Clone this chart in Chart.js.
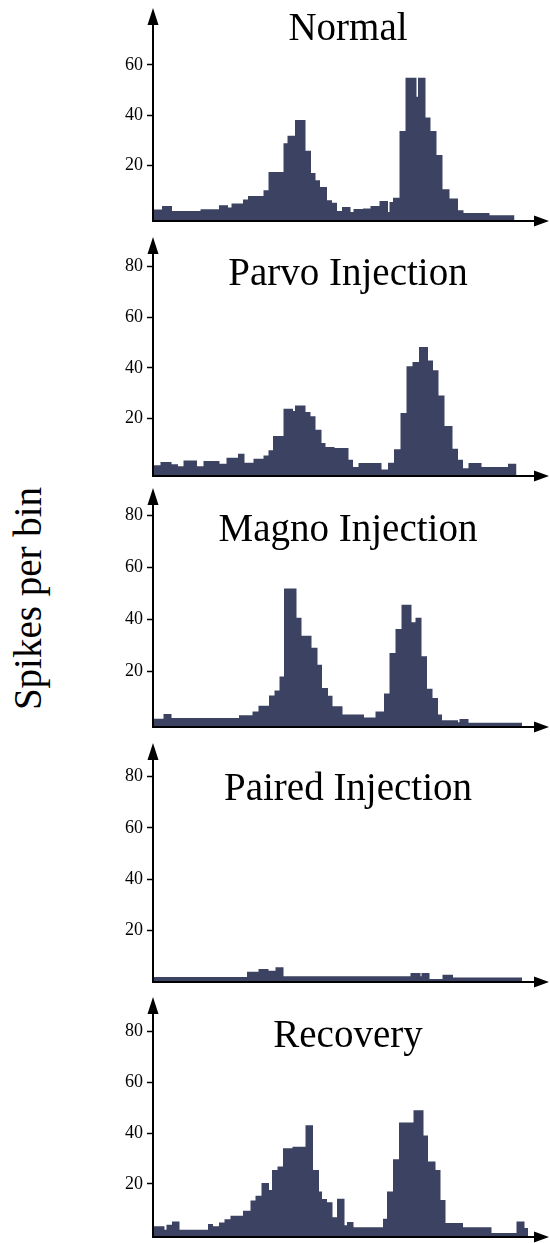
<!DOCTYPE html>
<html>
<head>
<meta charset="utf-8">
<title>Spikes per bin</title>
<script src="https://cdn.jsdelivr.net/npm/chart.js@4.4.1/dist/chart.umd.min.js"></script>
<style>
  html, body { margin: 0; padding: 0; background: #fff; }
  #page { position: relative; width: 550px; height: 1243px; overflow: hidden;
          font-family: "Liberation Serif", "DejaVu Serif", serif; color: #000; }
  #page canvas { position: absolute; left: 0; }
  .panel-title { position: absolute; left: 148px; width: 400px; text-align: center;
                 font-size: 39px; line-height: 39px; white-space: nowrap; }
  #ylabel { position: absolute; left: -123px; top: 579px; width: 300px; height: 39px;
            font-size: 39px; line-height: 39px; text-align: center; white-space: nowrap;
            transform: rotate(-90deg); }
</style>
</head>
<body>
<div id="page">
  <div id="ylabel">Spikes per bin</div>
</div>
<script>
/* =============================================================================
DATA: step edges (time, arbitrary bin units) and spike counts for each step
============================================================================= */

const normalEdges = [0, 1.8, 3.8, 9.5, 13.2, 15, 15.7, 18, 19, 22.1, 23.1, 26.1, 26.9, 28.4, 30.5,
  31.6, 32.5, 33.4, 34.8, 35.8, 36.8, 37.8, 39.5, 40.1, 42, 43.5, 45.3, 47, 47.3, 48, 49.3, 50.5,
  52.7, 53, 54.5, 55.5, 56.7, 57.9, 59.3, 61, 62.1, 67.3, 72.3];
const normalCounts = [2.3, 3.7, 1.7, 2.4, 4.0, 3.1, 4.7, 6.3, 7.7, 10.0, 17.3, 28.7, 31.7, 38.0, 25.7,
  16.9, 14.0, 11.3, 6.0, 5.0, 1.7, 3.3, 1.3, 2.5, 2.7, 3.7, 5.7, 1.3, 5.3, 7.0, 33.6, 54.9,
  47.3, 54.9, 39.0, 33.6, 24.0, 10.4, 6.7, 2.0, 0.9, 0];

const parvoEdges = [0, 1.5, 3.7, 5, 6.1, 8.8, 10.1, 13.3, 14.7, 17, 18.3, 20.1, 22.1, 23.1, 24,
  26.1, 28, 28.4, 30.5, 31.5, 32.5, 33.7, 34.5, 36.3, 39.1, 40, 41.1, 45.7, 47, 48.2, 49.5,
  50.7, 51.9, 53.2, 55, 56, 57.1, 58.3, 59.9, 61, 62, 63.1, 65.7, 71, 72.7];
const parvoCounts = [1.6, 2.9, 2.0, 1.2, 3.5, 1.2, 3.3, 2.2, 4.6, 6.2, 2.6, 4.2, 5.5, 7.5,
  13.1, 23.9, 23.0, 25.2, 22.6, 20.9, 15.6, 10.4, 8.8, 8.4, 3.8, 0.9, 2.5, 0, 2.6, 7.9,
  22.2, 40.6, 42.3, 48.2, 42.9, 39.0, 29.1, 17.1, 8.1, 3.8, 0.5, 2.5, 0.9, 2.2];

const magnoEdges = [0, 2.1, 3.7, 17.2, 19.9, 21.1, 23.2, 24.3, 25.3, 26.2, 28.7, 29.7, 31.7,
  32.9, 33.8, 35, 35.9, 37.9, 42.2, 44.5, 46.2, 47.3, 48.5, 49.7, 51.7, 52.5, 53.7, 54.8,
  55.9, 57, 57.8, 61, 61.3, 63.1, 73.8];
const magnoCounts = [1.6, 3.4, 1.9, 2.9, 4.4, 6.6, 10.6, 12.5, 17.9, 51.8, 40.5, 33.6, 29.0,
  22.4, 13.4, 10.5, 6.4, 3.2, 2.1, 4.4, 11.3, 26.9, 36.2, 45.6, 38.8, 40.5, 25.7, 13.2,
  9.6, 3.2, 1.0, 0.2, 1.5, 0];

const pairedEdges = [0, 18.8, 21.1, 23.1, 24.5, 26.1, 51.5, 53.5, 53.7, 55.3, 57.9, 60, 73.8];
const pairedCounts = [1.9, 4.0, 5.1, 4.4, 5.7, 2.2, 3.5, 2.2, 3.5, 1.2, 2.8, 1.8];

const recoveryEdges = [0, 2.3, 2.7, 3.8, 5.3, 11, 12, 13.2, 14.3, 15.5, 18, 19.5, 20.5, 21.7,
  23.2, 23.8, 24.9, 26, 27.9, 30.5, 32, 33.2, 33.8, 34.8, 35.9, 36.8, 38.3, 38.8, 40.1, 46,
  46.8, 48, 49.2, 52.1, 54.1, 55, 56.5, 57.5, 58.5, 62, 67.7, 72.7, 74.3, 75];
const recoveryCounts = [3.3, 2.0, 3.9, 5.2, 2.0, 4.2, 3.3, 4.8, 6.1, 7.5, 9.4, 13.5, 15.3,
  20.3, 17.6, 25.5, 26.8, 34.0, 34.6, 43.1, 25.5, 17.0, 14.0, 12.8, 6.9, 14.1, 3.7, 5.0,
  2.9, 6.3, 17.0, 29.7, 44.1, 49.0, 39.0, 28.8, 25.5, 13.7, 4.6, 2.9, 0.7, 5.2, 2.6];

const ticksNormal = [20, 40, 60];
const ticksOther = [20, 40, 60, 80];
const TIME_MAX = 79.2;

/* =============================================================================
LAYOUT (page pixels) AND STYLE
============================================================================= */

const BAR_COLOR = '#3c4362';
const AXIS_LEFT = 153;

const panels = [
  { title: 'Normal',           edges: normalEdges,   counts: normalCounts,   ticks: ticksNormal, yMin: -2.3, yMax: 82.7, top: 8,   axis: 221,  titleTop: 6.7 },
  { title: 'Parvo Injection',  edges: parvoEdges,    counts: parvoCounts,    ticks: ticksOther,  yMin: -2.6, yMax: 91.5, top: 237, axis: 476,  titleTop: 252.4 },
  { title: 'Magno Injection',  edges: magnoEdges,    counts: magnoCounts,    ticks: ticksOther,  yMin: -1.6, yMax: 90.6, top: 488, axis: 727,  titleTop: 508.4 },
  { title: 'Paired Injection', edges: pairedEdges,   counts: pairedCounts,   ticks: ticksOther,  yMin: 0,    yMax: 93.1, top: 743, axis: 982,  titleTop: 767.4 },
  { title: 'Recovery',         edges: recoveryEdges, counts: recoveryCounts, ticks: ticksOther,  yMin: -0.9, yMax: 93.5, top: 997, axis: 1237, titleTop: 1014 }
];

const PAD_TOP = 8;
const PAD_BOTTOM = 6;

// axis lines with arrow heads
const arrowAxes = {
  id: 'arrowAxes',
  afterDraw(chart) {
    const { ctx, chartArea: { left, right, top, bottom } } = chart;
    ctx.save();
    ctx.strokeStyle = '#000';
    ctx.fillStyle = '#000';
    ctx.lineWidth = 2;
    ctx.beginPath();
    ctx.moveTo(left, bottom + 1);
    ctx.lineTo(left, top + 10);
    ctx.moveTo(left - 1, bottom);
    ctx.lineTo(right - 10, bottom);
    ctx.stroke();
    ctx.beginPath();
    ctx.moveTo(left, top);
    ctx.lineTo(left - 5.5, top + 17);
    ctx.lineTo(left + 5.5, top + 17);
    ctx.closePath();
    ctx.moveTo(right, bottom);
    ctx.lineTo(right - 15, bottom - 5.5);
    ctx.lineTo(right - 15, bottom + 5.5);
    ctx.closePath();
    ctx.fill();
    ctx.restore();
  }
};

function stepPoints(edges, counts) {
  const points = counts.map((c, i) => ({ x: edges[i], y: c }));
  points.push({ x: edges[edges.length - 1], y: counts[counts.length - 1] });
  return points;
}

function renderPanel(panel) {
  const page = document.getElementById('page');

  const canvas = document.createElement('canvas');
  const height = panel.axis - panel.top + PAD_TOP + PAD_BOTTOM;
  canvas.width = 550;
  canvas.height = height;
  canvas.style.width = '550px';
  canvas.style.height = height + 'px';
  canvas.style.top = (panel.top - PAD_TOP) + 'px';
  page.appendChild(canvas);

  const title = document.createElement('div');
  title.className = 'panel-title';
  title.style.top = panel.titleTop + 'px';
  title.textContent = panel.title;
  page.appendChild(title);

  new Chart(canvas.getContext('2d'), {
    type: 'line',
    data: {
      datasets: [{
        label: panel.title,
        data: stepPoints(panel.edges, panel.counts),
        stepped: true,
        fill: 'start',
        backgroundColor: BAR_COLOR,
        borderColor: 'transparent',
        borderWidth: 0,
        pointRadius: 0
      }]
    },
    options: {
      responsive: false,
      animation: false,
      devicePixelRatio: 1,
      layout: {
        autoPadding: false,
        padding: { top: PAD_TOP, bottom: PAD_BOTTOM, left: 0, right: 1 }
      },
      plugins: {
        legend: { display: false },
        tooltip: { enabled: false }
      },
      scales: {
        x: { type: 'linear', min: 0, max: TIME_MAX, display: false },
        y: {
          type: 'linear',
          position: 'left',
          min: panel.yMin,
          max: panel.yMax,
          afterFit: scale => {
            // fixed axis position, no extra room for the end labels
            scale.width = AXIS_LEFT;
            scale.paddingTop = 0;
            scale.paddingBottom = 0;
          },
          afterBuildTicks: scale => { scale.ticks = panel.ticks.map(v => ({ value: v })); },
          border: { display: false },
          grid: {
            display: true,
            drawOnChartArea: false,
            drawTicks: true,
            tickLength: 6,
            tickWidth: 1.5,
            tickColor: '#000'
          },
          ticks: {
            color: '#000',
            padding: 4,
            font: { family: 'Liberation Serif', size: 18 }
          }
        }
      }
    },
    plugins: [arrowAxes]
  });
}

panels.forEach(renderPanel);
</script>
</body>
</html>
